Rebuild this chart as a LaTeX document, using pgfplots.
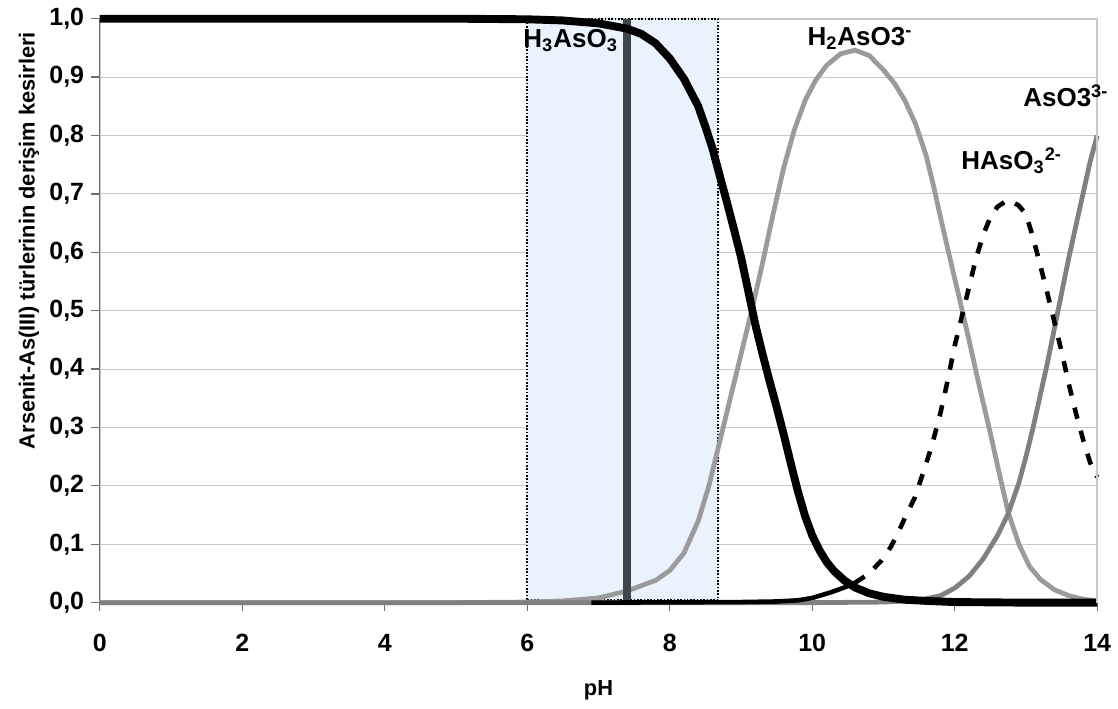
\documentclass[border=0pt]{standalone}
\usepackage{fontspec}
\setmainfont{Liberation Sans}
\usepackage{pgfplots}
\pgfplotsset{compat=1.18}
\definecolor{gridgray}{RGB}{200,200,200}
\definecolor{axgray}{RGB}{110,110,110}
\definecolor{lightcurve}{RGB}{155,155,155}
\definecolor{midcurve}{RGB}{128,128,128}
\definecolor{vline}{RGB}{64,70,77}
\definecolor{shade}{RGB}{234,243,253}

\begin{document}
\begin{tikzpicture}
\begin{axis}[
  name=ax,
  scale only axis,
  width=480pt, height=281pt,
  xmin=0, xmax=14, ymin=0, ymax=1,
  xtick={0,2,4,6,8,10,12,14},
  ytick={0,0.1,0.2,0.3,0.4,0.5,0.6,0.7,0.8,0.9,1.0},
  tick pos=left,
  axis line style={gridgray, line width=0.8pt},
  ymajorgrids, grid style={gridgray, line width=0.5pt},
  tick align=outside, major tick length=4pt,
  tick style={axgray, line width=0.6pt},
  /pgf/number format/assume math mode=true,
  ticklabel style={font=\fontsize{12}{14}\selectfont\bfseries},
  xticklabel style={anchor=base, yshift=-19.5pt, text height=8.6pt, text depth=0pt},
  yticklabel style={/pgf/number format/.cd, fixed, fixed zerofill, precision=1, use comma},
  xlabel={pH},
  ylabel={Arsenit-As(III) türlerinin derişim kesirleri},
  label style={font=\fontsize{10.5}{12}\selectfont\bfseries},
  xlabel style={at={(axis description cs:0.5,0)}, anchor=center, yshift=-42pt},
  ylabel style={at={(axis description cs:-0.071,0.62)}, anchor=center},
  clip=false,
]
\draw[axgray, line width=0.6pt] (rel axis cs:0,1) -- (rel axis cs:0,0) -- (rel axis cs:1,0);

% pH 6 - 8.7 band
\addplot[draw=black, line width=0.8pt, dash pattern=on 0.8pt off 0.8pt, fill=shade]
  coordinates {(6,0.004) (8.68,0.004) (8.68,1) (6,1)} -- cycle;

% H2AsO3-
\addplot[lightcurve, line width=2.3pt] coordinates {
(0,0) (5,0) (6,0.001) (6.5,0.003) (7.0,0.008) (7.4,0.02) (7.8,0.038) (8.0,0.055)
(8.2,0.085) (8.4,0.14) (8.55,0.2) (8.7,0.275) (8.85,0.35) (9.0,0.425) (9.15,0.5)
(9.3,0.58) (9.45,0.665) (9.6,0.745) (9.75,0.81) (9.9,0.86) (10.05,0.895) (10.2,0.92)
(10.4,0.94) (10.6,0.946) (10.8,0.937) (11.0,0.912) (11.15,0.89) (11.3,0.86)
(11.45,0.82) (11.6,0.765) (11.7,0.715) (11.8,0.66) (11.9,0.607) (12.0,0.555)
(12.1,0.503) (12.2,0.45) (12.3,0.395) (12.4,0.342) (12.5,0.29) (12.6,0.235)
(12.75,0.155) (12.9,0.1) (13.05,0.062) (13.2,0.04) (13.4,0.022) (13.6,0.012)
(13.8,0.006) (14,0.003)};

% AsO3 3-
\addplot[midcurve, line width=2.3pt] coordinates {
(0,0) (10,0) (11,0.001) (11.5,0.004) (11.8,0.012) (12.0,0.025) (12.2,0.045)
(12.4,0.075) (12.6,0.115) (12.75,0.152) (12.9,0.205) (13.0,0.25) (13.1,0.3)
(13.2,0.355) (13.3,0.41) (13.4,0.47) (13.5,0.53) (13.6,0.59) (13.7,0.645)
(13.8,0.7) (13.9,0.755) (14.0,0.80)};

% pH 7.4 marker
\addplot[vline, line width=3.4pt] coordinates {(7.4,0) (7.4,1)};

% HAsO3 2-
\addplot[black, line width=2.2pt] coordinates {
(6.9,0) (8,0.0005) (9,0.001) (9.5,0.002) (9.8,0.004) (10.0,0.008) (10.27,0.018)
(10.45,0.026) (10.6,0.034)};
\addplot[black, line width=2.2pt, dash pattern=on 5.5pt off 6pt] coordinates {
(10.6,0.034) (10.8,0.05) (10.97,0.072) (11.1,0.095) (11.2,0.118) (11.3,0.145)
(11.44,0.18) (11.55,0.22) (11.67,0.265) (11.8,0.325) (11.9,0.38) (12.0,0.44)
(12.1,0.49) (12.2,0.54) (12.3,0.59) (12.4,0.63) (12.5,0.66) (12.6,0.678)
(12.75,0.69) (12.9,0.68) (13.0,0.665) (13.1,0.625) (13.2,0.578) (13.3,0.53)
(13.4,0.48) (13.5,0.43) (13.6,0.375) (13.7,0.325) (13.8,0.28) (13.9,0.24)
(14.0,0.215)};

% H3AsO3
\addplot[black, line width=3.8pt] coordinates {
(0,1.0) (5,1.0) (6,0.999) (6.5,0.997) (7.0,0.992) (7.4,0.983) (7.6,0.974)
(7.8,0.958) (8.0,0.932) (8.2,0.897) (8.4,0.85) (8.5,0.815) (8.6,0.778) (8.7,0.732)
(8.8,0.687) (8.9,0.64) (9.0,0.592) (9.1,0.535) (9.2,0.477) (9.3,0.427) (9.4,0.38)
(9.5,0.335) (9.6,0.288) (9.7,0.238) (9.8,0.19) (9.9,0.148) (10.0,0.115)
(10.1,0.09) (10.2,0.07) (10.3,0.055) (10.45,0.038) (10.6,0.026) (10.8,0.016)
(11.0,0.01) (11.3,0.005) (11.6,0.003) (12.0,0.001) (13,0) (14,0)};

\draw[gridgray, line width=0.8pt] (rel axis cs:1,0) -- (rel axis cs:1,1);

\begin{scope}[every node/.style={font=\fontsize{12.5}{14}\selectfont\bfseries, inner sep=0pt}]
\node at (axis cs:6.61,0.962) {H\textsubscript{3}AsO\textsubscript{3}};
\node at (axis cs:10.67,0.966) {H\textsubscript{2}AsO3\textsuperscript{-}};
\node at (axis cs:13.56,0.868) {AsO3\textsuperscript{3-}};
\node at (axis cs:12.8,0.757) {HAsO\textsubscript{3}\textsuperscript{2-}};
\end{scope}
\end{axis}
\path ([xshift=-48pt,yshift=-51pt]ax.south west) rectangle ([xshift=9pt,yshift=9pt]ax.north east);
\end{tikzpicture}
\end{document}
